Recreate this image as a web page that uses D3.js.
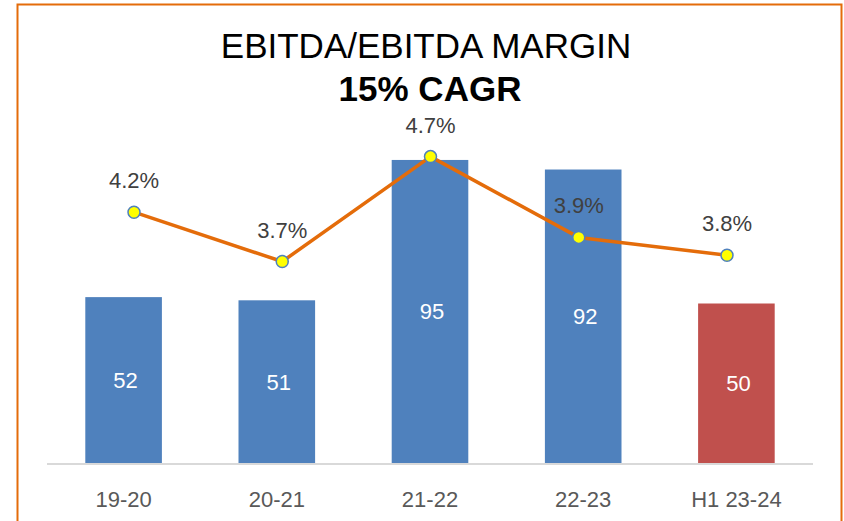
<!DOCTYPE html>
<html>
<head>
<meta charset="utf-8">
<script src="https://cdn.jsdelivr.net/npm/d3@7"></script>
<style>
  body { margin: 0; background: #fff; }
  svg { display: block; font-family: "Liberation Sans", Arial, sans-serif; }
</style>
</head>
<body>
<svg width="844" height="521"></svg>
<script>
var periods = ["19-20", "20-21", "21-22", "22-23", "H1 23-24"];
var ebitda = [52, 51, 95, 92, 50];
var margin = [4.17, 3.70, 4.70, 3.93, 3.76];
var marginLabels = ["4.2%", "3.7%", "4.7%", "3.9%", "3.8%"];
var barColors = ["#4f81bd", "#4f81bd", "#4f81bd", "#4f81bd", "#c0504d"];

var svg = d3.select("svg"),
    width = +svg.attr("width"),
    height = +svg.attr("height");

// orange frame, runs off the bottom like the source
svg.append("rect")
    .attr("x", 17.5).attr("y", 4.5)
    .attr("width", 824).attr("height", 540)
    .attr("fill", "none")
    .attr("stroke", "#e46c0a")
    .attr("stroke-width", 2);

svg.append("text")
    .attr("x", 426).attr("y", 58)
    .attr("text-anchor", "middle")
    .attr("font-size", 35)
    .attr("fill", "#000")
    .text("EBITDA/EBITDA MARGIN");

svg.append("text")
    .attr("x", 430).attr("y", 101)
    .attr("text-anchor", "middle")
    .attr("font-size", 35)
    .attr("font-weight", "bold")
    .attr("fill", "#000")
    .text("15% CAGR");

var plot = {left: 47, right: 813, top: 144, bottom: 463};

var x = d3.scaleBand()
    .domain(periods)
    .range([plot.left, plot.right])
    .paddingInner(0.5)
    .paddingOuter(0.25);

// the line series sits on a slightly narrower category axis
var x2 = d3.scalePoint()
    .domain(periods)
    .range([134, 727]);

var y = d3.scaleLinear()
    .domain([0, 100])
    .range([plot.bottom, plot.top]);

var y2 = d3.scaleLinear()
    .domain([1.78, 4.82])
    .range([plot.bottom, plot.top]);

var bars = svg.append("g").attr("class", "bars")
  .selectAll("rect")
  .data(ebitda)
  .enter().append("rect")
    .attr("x", function(d, i) { return x(periods[i]); })
    .attr("y", function(d) { return y(d); })
    .attr("width", x.bandwidth())
    .attr("height", function(d) { return y(0) - y(d); })
    .attr("fill", function(d, i) { return barColors[i]; });

svg.append("g").attr("class", "bar-labels")
  .selectAll("text")
  .data(ebitda)
  .enter().append("text")
    .attr("x", function(d, i) { return x(periods[i]) + x.bandwidth() / 2 + 2; })
    .attr("y", function(d) { return (y(d) + y(0)) / 2 + 8; })
    .attr("text-anchor", "middle")
    .attr("font-size", 22)
    .attr("fill", "#fff")
    .text(function(d) { return d; });

// x axis
var xAxis = svg.append("g")
    .attr("transform", "translate(0," + plot.bottom + ")")
    .call(d3.axisBottom(x).tickSize(0).tickPadding(28));
xAxis.select(".domain")
    .attr("stroke", "#d9d9d9")
    .attr("stroke-width", 2)
    .attr("d", "M" + plot.left + ",1H" + plot.right);
xAxis.selectAll("text")
    .attr("font-family", "Liberation Sans, Arial, sans-serif")
    .attr("font-size", 22)
    .attr("fill", "#595959");

// margin line
var line = d3.line()
    .x(function(d, i) { return x2(periods[i]); })
    .y(function(d) { return y2(d); });

svg.append("path")
    .datum(margin)
    .attr("d", line)
    .attr("fill", "none")
    .attr("stroke", "#e46c0a")
    .attr("stroke-width", 3.5)
    .attr("stroke-linejoin", "round");

svg.append("g").attr("class", "markers")
  .selectAll("circle")
  .data(margin)
  .enter().append("circle")
    .attr("cx", function(d, i) { return x2(periods[i]); })
    .attr("cy", function(d) { return y2(d); })
    .attr("r", 6)
    .attr("fill", "#ffff00")
    .attr("stroke", "#4f81bd")
    .attr("stroke-width", 1.5);

svg.append("g").attr("class", "margin-labels")
  .selectAll("text")
  .data(margin)
  .enter().append("text")
    .attr("x", function(d, i) { return x2(periods[i]); })
    .attr("y", function(d) { return y2(d) - 24; })
    .attr("text-anchor", "middle")
    .attr("font-size", 22)
    .attr("fill", "#404040")
    .text(function(d, i) { return marginLabels[i]; });
</script>
</body>
</html>
